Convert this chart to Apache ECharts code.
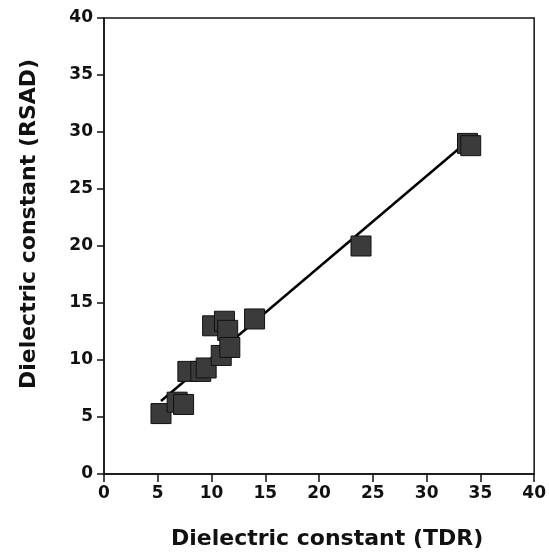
<!DOCTYPE html>
<html>
<head>
<meta charset="utf-8">
<script src="https://cdn.jsdelivr.net/npm/echarts@6/dist/echarts.min.js"></script>
<style>
  html, body { margin: 0; padding: 0; background: #fff; }
  #chart { width: 549px; height: 555px; }
</style>
</head>
<body>
<div id="chart"></div>
<script>
// measured points: TDR vs RSAD dielectric constant
const tdrValues = [5.3, 6.8, 7.4, 7.8, 9.0, 9.5, 10.1, 11.2, 11.5, 10.9, 11.7, 14.0, 23.9, 33.8, 34.1]
const rsadValues = [5.3, 6.3, 6.1, 9.0, 9.0, 9.3, 13.0, 13.4, 12.6, 10.4, 11.1, 13.6, 20.0, 29.0, 28.8]

// fitted line end points
const fitX = [5.3, 33.7]
const fitY = [6.4, 29.1]

const xTicks = ['0', '5', '10', '15', '20', '25', '30', '35', '40']

const labelFont = 'DejaVu Sans'

let points = []
for (let i = 0; i < tdrValues.length; i++) {
  points.push([tdrValues[i], rsadValues[i]])
}
let fitLine = [[fitX[0], fitY[0]], [fitX[1], fitY[1]]]

const chart = echarts.init(document.getElementById('chart'))
chart.setOption({
  animation: false,
  grid: {
    left: 104,
    right: 14,
    top: 18,
    bottom: 81,
    show: true,
    borderColor: '#111',
    borderWidth: 1.5
  },
  xAxis: {
    type: 'value',
    min: 0,
    max: 40,
    interval: 5,
    name: 'Dielectric constant (TDR)',
    nameLocation: 'middle',
    nameGap: 54,
    nameTextStyle: {
      fontFamily: labelFont, fontWeight: 'bold', fontSize: 22, color: '#111',
      padding: [0, 0, 0, 16]
    },
    axisLine: { lineStyle: { color: '#111', width: 1.5 } },
    axisTick: { inside: false, length: 8, lineStyle: { color: '#111', width: 1.5 } },
    axisLabel: {
      fontFamily: labelFont, fontWeight: 'bold', fontSize: 17, color: '#111', margin: 11,
      formatter: v => xTicks[v / 5]
    },
    splitLine: { show: false }
  },
  yAxis: {
    type: 'value',
    min: 0,
    max: 40,
    interval: 5,
    name: 'Dielectric constant (RSAD)',
    nameLocation: 'middle',
    nameGap: 64,
    nameTextStyle: {
      fontFamily: labelFont, fontWeight: 'bold', fontSize: 22, color: '#111',
      padding: [0, 0, 0, 44]
    },
    axisLine: { lineStyle: { color: '#111', width: 1.5 } },
    axisTick: { inside: false, length: 7, lineStyle: { color: '#111', width: 1.5 } },
    axisLabel: { fontFamily: labelFont, fontWeight: 'bold', fontSize: 17, color: '#111', margin: 11 },
    splitLine: { show: false }
  },
  series: [
    {
      type: 'line',
      data: fitLine,
      symbol: 'none',
      lineStyle: { color: '#000', width: 2.5 },
      z: 1
    },
    {
      type: 'scatter',
      data: points,
      symbol: 'rect',
      symbolSize: 20,
      itemStyle: { color: '#3b3b3b', borderColor: '#111', borderWidth: 1, opacity: 1 },
      z: 2
    }
  ]
})
</script>
</body>
</html>
